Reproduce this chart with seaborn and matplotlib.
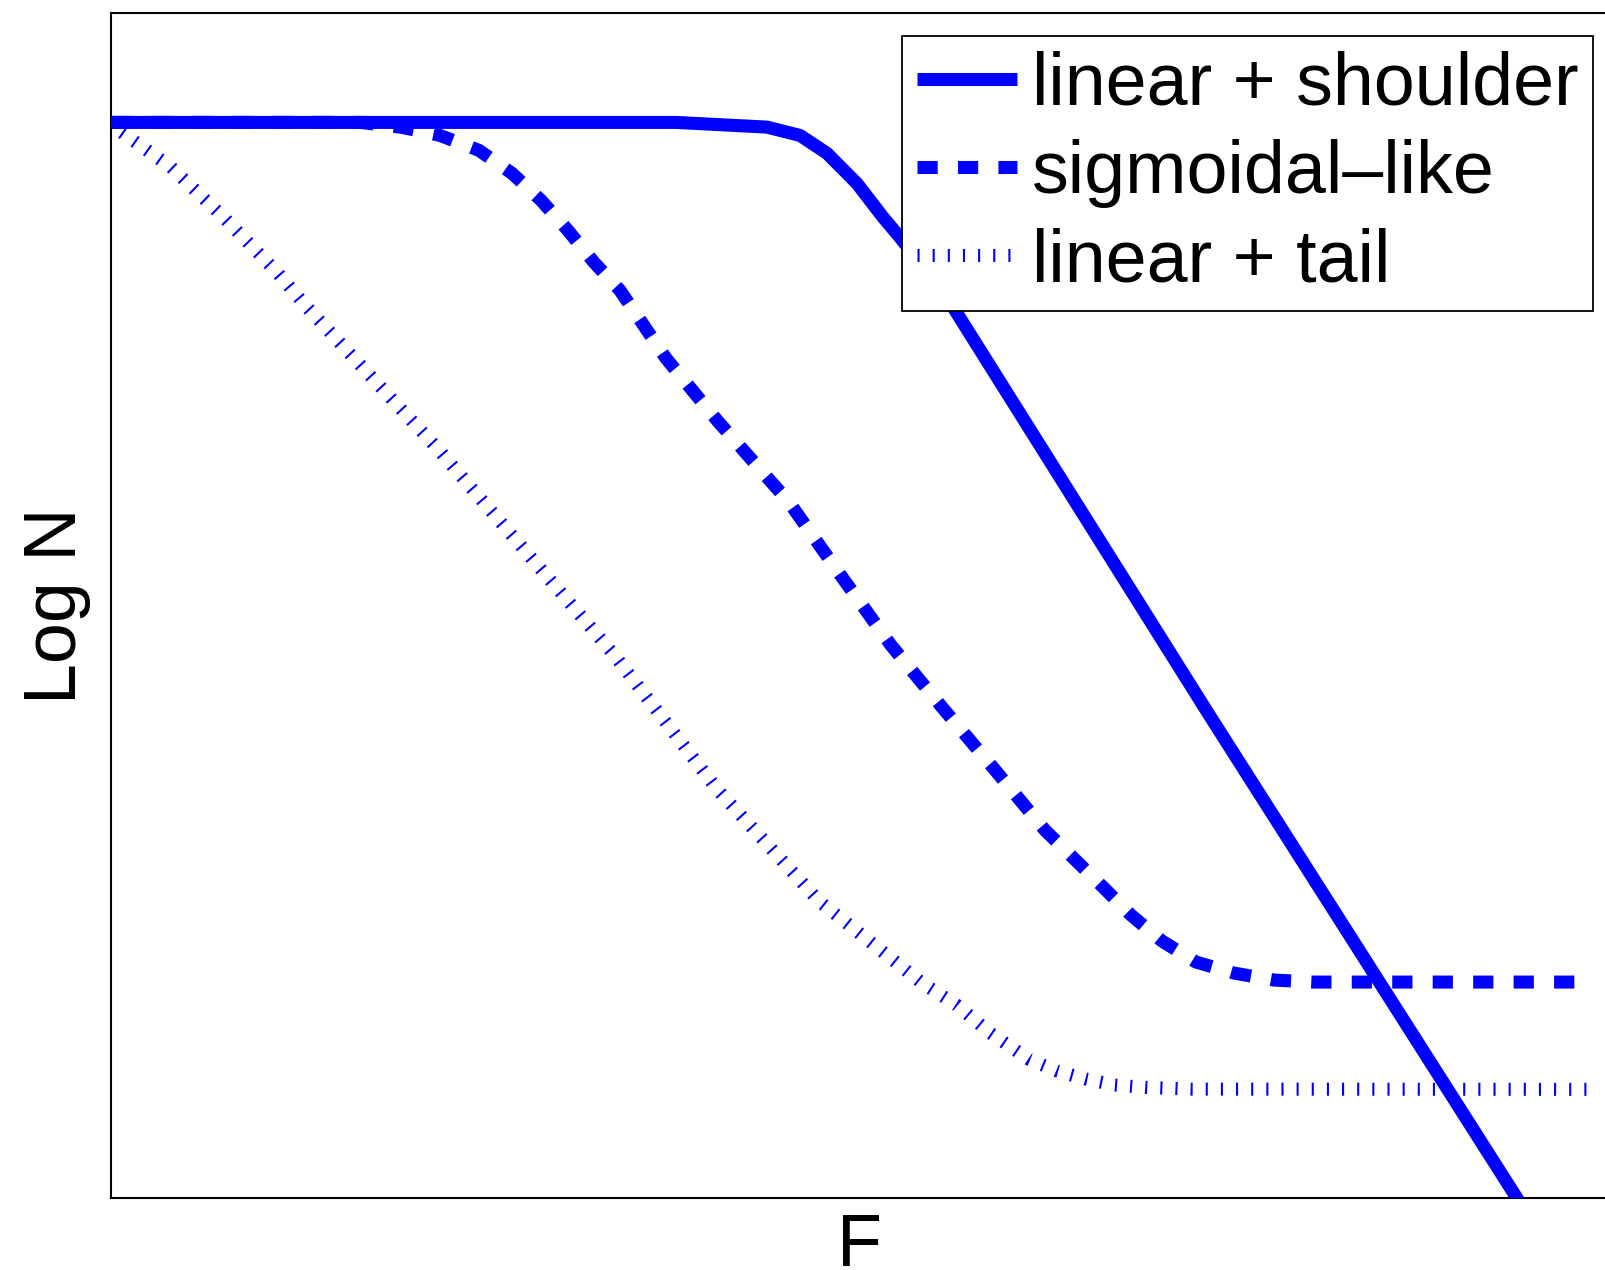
import numpy as np
import pandas as pd
import matplotlib
matplotlib.use("Agg")
import matplotlib.pyplot as plt
import seaborn as sns

# ---- data (F and Log N in arbitrary units) ----
shoulder_F = [0.0, 3.814, 4.428, 4.651, 4.833, 5.035, 5.211, 5.325, 5.642, 7.407, 9.573]
shoulder_logN = [8.0, 8.0, 7.965, 7.903, 7.770, 7.546, 7.294, 7.145, 6.699, 3.60, -0.15]

sigmoid_F = [0.0, 1.685, 1.966, 2.222, 2.485, 2.708, 2.904, 3.085, 3.261, 3.436, 3.747,
             4.091, 4.577, 4.920, 5.264, 5.608, 5.956, 6.303, 6.695, 6.884, 7.093,
             7.322, 7.578, 7.848, 8.118, 10.0]
sigmoid_logN = [8.0, 8.0, 7.963, 7.903, 7.792, 7.621, 7.420, 7.197, 6.959, 6.751, 6.245,
                5.784, 5.175, 4.639, 4.112, 3.651, 3.197, 2.736, 2.312, 2.104, 1.911,
                1.755, 1.673, 1.621, 1.606, 1.606]

tail_F = [0.0, 0.075, 0.407, 0.778, 1.131, 1.325, 2.222, 3.399, 4.091, 4.779, 5.474,
          5.708, 5.937, 6.193, 6.382, 6.578, 6.775, 6.980, 7.286, 9.966]
tail_logN = [8.0, 7.926, 7.668, 7.277, 6.875, 6.625, 5.554, 4.037, 3.041, 2.208, 1.599,
             1.435, 1.225, 1.033, 0.946, 0.885, 0.840, 0.823, 0.810, 0.808]

labels = ["linear + shoulder", "sigmoidal\u2013like", "linear + tail"]
x_label = "F"
y_label = "Log N"

# ---- style ----
sns.set_style("white")
plt.rcParams["font.family"] = ["Liberation Sans", "DejaVu Sans"]
plt.rcParams["text.color"] = "black"
plt.rcParams["axes.labelcolor"] = "black"

W, H, DPI = 1606, 1270, 100
fig = plt.figure(figsize=(W / DPI, H / DPI), dpi=DPI)
left_px, right_px, top_px, bottom_px = 110.6, 1607.8, 13.5, 1198.0
ax = fig.add_axes([left_px / W, 1 - bottom_px / H,
                   (right_px - left_px) / W, (bottom_px - top_px) / H])

lw = 9.4
blue = (0, 0, 1)

sns.lineplot(x=shoulder_F, y=shoulder_logN, ax=ax, color=blue, lw=lw,
             solid_capstyle="butt", solid_joinstyle="round", sort=False,
             label=labels[0], zorder=3)
sns.lineplot(x=sigmoid_F, y=sigmoid_logN, ax=ax, color=blue, lw=lw,
             linestyle=(0, (1.55, 1.55)), dash_capstyle="butt", sort=False,
             label=labels[1], zorder=2)
sns.lineplot(x=tail_F, y=tail_logN, ax=ax, color=blue, lw=lw,
             linestyle=(0, (0.16, 1.0)), dash_capstyle="butt", sort=False,
             label=labels[2], zorder=1)

ax.set_xlim(0, 10.1)
ax.set_ylim(0, 8.81)
ax.set_xticks([])
ax.set_yticks([])
for s in ax.spines.values():
    s.set_color("black")
    s.set_linewidth(1.5)
ax.spines["right"].set_visible(False)

fs = 53
ax.set_xlabel(x_label, fontsize=fs, labelpad=10, color="black")
ax.set_ylabel(y_label, fontsize=fs, labelpad=14, color="black")

leg = ax.legend(loc="upper right", bbox_to_anchor=(1593 / W, 1 - 36 / H),
                bbox_transform=fig.transFigure, fontsize=fs, frameon=True,
                fancybox=False, shadow=False, framealpha=1, edgecolor="black",
                borderaxespad=0, borderpad=0.2, handlelength=1.36,
                handletextpad=0.2, labelspacing=0.26)
leg.get_frame().set_linewidth(1.3)
for t in leg.get_texts():
    t.set_color("black")

fig.savefig("out.png", dpi=DPI, facecolor="white")
